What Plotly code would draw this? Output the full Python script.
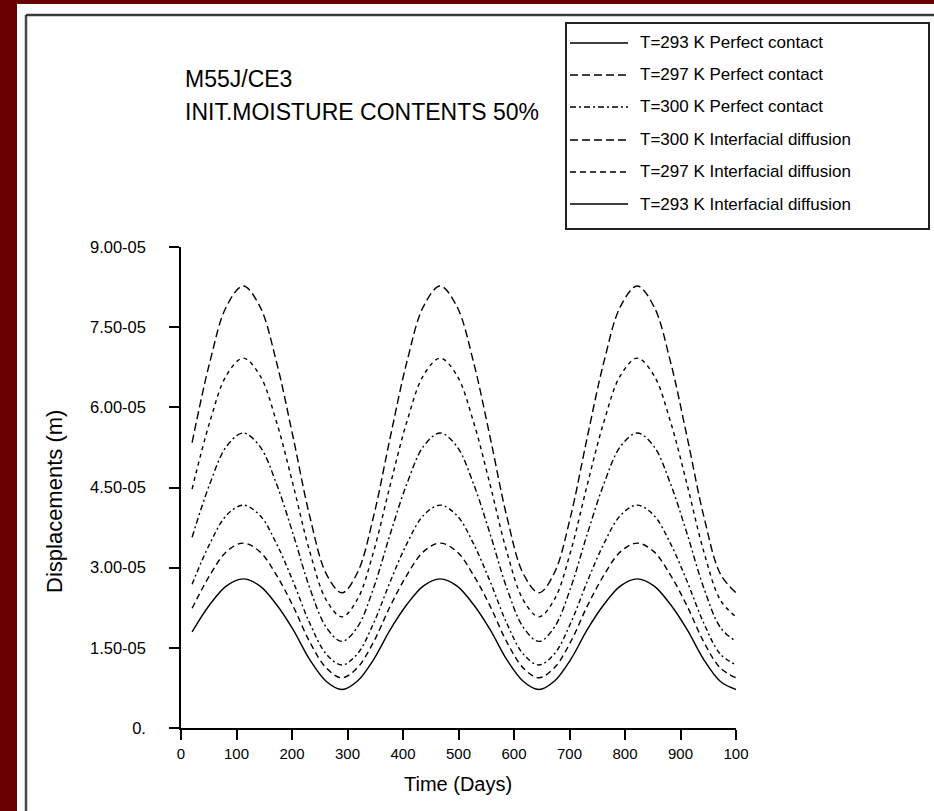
import plotly.graph_objects as go

# Time axis (days) and displacement histories, in units of 1e-5 m
days = [20, 52, 82, 112, 142, 172, 202, 232, 262, 290, 318, 347, 377, 407, 437, 467,
        497, 527, 557, 587, 617, 645, 673, 702, 732, 762, 792, 822, 852, 882, 912, 942,
        972, 1000]

disp_300_interfacial = [5.34, 6.85, 7.89, 8.27, 7.89, 6.85, 5.44, 3.96, 2.88, 2.53, 2.91, 3.96,
                        5.44, 6.85, 7.89, 8.27, 7.89, 6.85, 5.44, 3.96, 2.88, 2.53, 2.91, 3.96,
                        5.44, 6.85, 7.89, 8.27, 7.89, 6.85, 5.44, 3.96, 2.88, 2.53]
disp_297_interfacial = [4.47, 5.73, 6.60, 6.92, 6.60, 5.73, 4.55, 3.30, 2.39, 2.08, 2.41, 3.30,
                        4.55, 5.73, 6.60, 6.92, 6.60, 5.73, 4.55, 3.30, 2.39, 2.08, 2.41, 3.30,
                        4.55, 5.73, 6.60, 6.92, 6.60, 5.73, 4.55, 3.30, 2.39, 2.08]
disp_300_perfect = [3.57, 4.57, 5.27, 5.52, 5.27, 4.57, 3.63, 2.62, 1.88, 1.62, 1.89, 2.62,
                    3.63, 4.57, 5.27, 5.52, 5.27, 4.57, 3.63, 2.62, 1.88, 1.62, 1.89, 2.62,
                    3.63, 4.57, 5.27, 5.52, 5.27, 4.57, 3.63, 2.62, 1.88, 1.62]
disp_297_perfect = [2.69, 3.45, 3.98, 4.17, 3.98, 3.45, 2.74, 1.96, 1.38, 1.18, 1.39, 1.96,
                    2.74, 3.45, 3.98, 4.17, 3.98, 3.45, 2.74, 1.96, 1.38, 1.18, 1.39, 1.96,
                    2.74, 3.45, 3.98, 4.17, 3.98, 3.45, 2.74, 1.96, 1.38, 1.18]
disp_293_interfacial = [2.24, 2.86, 3.30, 3.46, 3.30, 2.86, 2.28, 1.61, 1.12, 0.94, 1.13, 1.61,
                        2.28, 2.86, 3.30, 3.46, 3.30, 2.86, 2.28, 1.61, 1.12, 0.94, 1.13, 1.61,
                        2.28, 2.86, 3.30, 3.46, 3.30, 2.86, 2.28, 1.61, 1.12, 0.94]
disp_293_perfect = [1.80, 2.31, 2.66, 2.79, 2.66, 2.31, 1.84, 1.28, 0.87, 0.72, 0.88, 1.28,
                    1.84, 2.31, 2.66, 2.79, 2.66, 2.31, 1.84, 1.28, 0.87, 0.72, 0.88, 1.28,
                    1.84, 2.31, 2.66, 2.79, 2.66, 2.31, 1.84, 1.28, 0.87, 0.72]

series_names = ["T=300 K Interfacial diffusion", "T=297 K Interfacial diffusion",
                "T=300 K Perfect contact", "T=297 K Perfect contact",
                "T=293 K Interfacial diffusion", "T=293 K Perfect contact"]
series_values = [disp_300_interfacial, disp_297_interfacial, disp_300_perfect,
                 disp_297_perfect, disp_293_interfacial, disp_293_perfect]
series_dash = ["8px,4px", "4px,4px", "6px,3px,2px,3px", "5px,3px,2px,3px", "6px,4px", "solid"]

# Legend box entries (top to bottom) and their sample line styles
legend_labels = ["T=293 K Perfect contact", "T=297 K Perfect contact", "T=300 K Perfect contact",
                 "T=300 K Interfacial diffusion", "T=297 K Interfacial diffusion",
                 "T=293 K Interfacial diffusion"]
legend_dash = ["solid", "8px,4px", "6px,3px,2px,3px", "8px,4px", "6px,4px", "solid"]

x_tickvals = [0, 100, 200, 300, 400, 500, 600, 700, 800, 900, 1000]
x_ticktext = ["0", "100", "200", "300", "400", "500", "600", "700", "800", "900", "100"]
y_tickvals = [0, 1.5, 3.0, 4.5, 6.0, 7.5, 9.0]
y_ticktext = ["0.", "1.50-05", "3.00-05", "4.50-05", "6.00-05", "7.50-05", "9.00-05"]

W, H = 934, 811
L, R, T, B = 181, 736, 247, 728  # plot area edges in pixels
FONT = "Liberation Sans, Arial, Helvetica, sans-serif"


def fx(px):
    return px / W


def fy(py):
    return 1 - py / H


fig = go.Figure()
for name, vals, dash in zip(series_names, series_values, series_dash):
    fig.add_trace(go.Scatter(
        x=days, y=vals, name=name, mode="lines", showlegend=False,
        line=dict(color="black", width=1.4, dash=dash, shape="spline", smoothing=1.0),
    ))

shapes = [
    # maroon page border
    dict(type="rect", x0=0, x1=fx(17), y0=0, y1=1,
         fillcolor="#6b0000", line=dict(width=0)),
    dict(type="rect", x0=0, x1=1, y0=fy(4), y1=1,
         fillcolor="#6b0000", line=dict(width=0)),
    # outer frame
    dict(type="line", x0=fx(26), x1=1, y0=fy(15), y1=fy(15),
         line=dict(color="#a0a0a0", width=3)),
    dict(type="line", x0=fx(26), x1=fx(26), y0=fy(15), y1=0,
         line=dict(color="#a0a0a0", width=3)),
    dict(type="line", x0=fx(26), x1=1, y0=fy(15), y1=fy(15),
         line=dict(color="#1a1a1a", width=1.3)),
    dict(type="line", x0=fx(26), x1=fx(26), y0=fy(15), y1=0,
         line=dict(color="#1a1a1a", width=1.3)),
    # legend box
    dict(type="rect", x0=fx(566), x1=fx(929), y0=fy(229), y1=fy(23),
         line=dict(color="#222222", width=2), fillcolor="rgba(0,0,0,0)"),
]

annotations = [
    dict(text="M55J/CE3", x=fx(183), y=fy(79)),
    dict(text="INIT.MOISTURE CONTENTS 50%", x=fx(183), y=fy(112)),
]
for a in annotations:
    a.update(xref="paper", yref="paper", showarrow=False, xanchor="left", yanchor="middle",
             font=dict(family=FONT, size=23, color="black"))

row_y = [43, 75, 107, 140, 172, 204]
for label, dash, ry in zip(legend_labels, legend_dash, row_y):
    shapes.append(dict(type="line", x0=fx(570), x1=fx(628), y0=fy(ry), y1=fy(ry),
                       line=dict(color="black", width=1.4, dash=dash)))
    annotations.append(dict(text=label, x=fx(638), y=fy(ry), xref="paper", yref="paper",
                            xanchor="left", yanchor="middle", showarrow=False,
                            font=dict(family=FONT, size=17, color="black")))

for s in shapes:
    s.update(xref="paper", yref="paper")

annotations.append(dict(text="Displacements (m)", x=fx(55), y=fy(502), xref="paper",
                        yref="paper", textangle=-90, showarrow=False,
                        xanchor="center", yanchor="middle",
                        font=dict(family=FONT, size=22, color="black")))
annotations.append(dict(text="Time (Days)", x=fx(458), y=fy(784), xref="paper",
                        yref="paper", showarrow=False, xanchor="center", yanchor="middle",
                        font=dict(family=FONT, size=20, color="black")))

fig.update_layout(
    width=W, height=H, autosize=False,
    margin=dict(l=0, r=0, t=0, b=0, pad=0),
    paper_bgcolor="white", plot_bgcolor="white",
    shapes=shapes, annotations=annotations, showlegend=False,
    font=dict(family=FONT, color="black"),
    xaxis=dict(domain=[L / W, R / W], range=[0, 1000], tickvals=x_tickvals,
               ticktext=x_ticktext, showline=True, linecolor="black", linewidth=1.5,
               ticks="outside", ticklen=10, tickwidth=1.5, tickcolor="black",
               showgrid=False, zeroline=False, automargin=False,
               tickfont=dict(family=FONT, size=15, color="black"), ticklabelstandoff=1),
    yaxis=dict(domain=[1 - B / H, 1 - T / H], range=[0, 9], tickvals=y_tickvals,
               ticktext=y_ticktext, showline=True, linecolor="black", linewidth=1.5,
               ticks="outside", ticklen=10, tickwidth=1.5, tickcolor="black",
               showgrid=False, zeroline=False, automargin=False,
               tickfont=dict(family=FONT, size=16.5, color="black"), ticklabelstandoff=20),
)

fig.write_html("out.html")
